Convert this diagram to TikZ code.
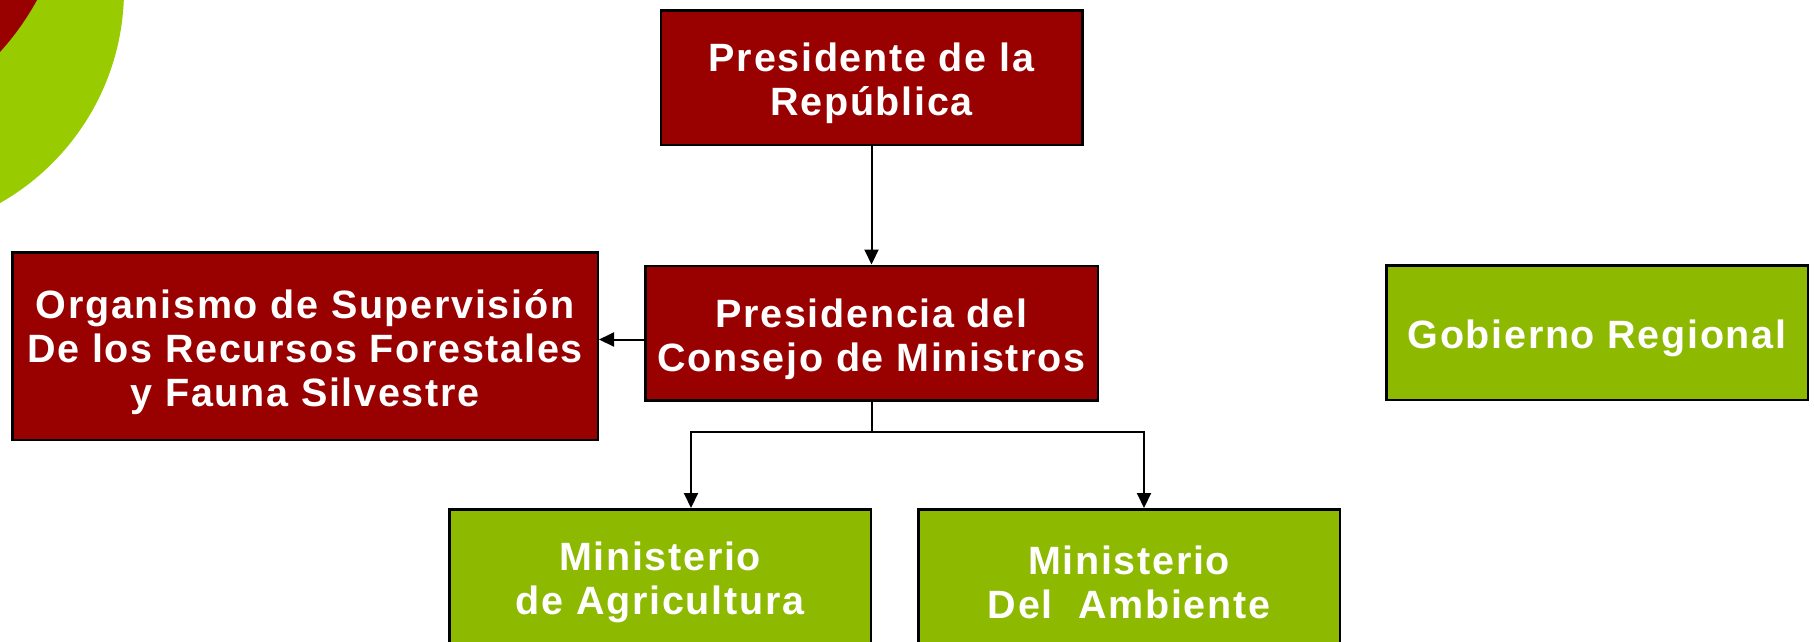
\documentclass[tikz,border=0pt]{standalone}
\usepackage{fontspec}
\newfontfamily\orgfont[LetterSpace=4.3]{Liberation Sans}
\usepackage{xcolor}
\usetikzlibrary{positioning, arrows.meta}

\definecolor{orgred}{RGB}{153,0,0}
\definecolor{orggreen}{RGB}{141,185,0}
\definecolor{ringgreen}{RGB}{153,204,0}

\newcommand{\topstrut}[1][41pt]{\rule{0pt}{#1}}

\begin{document}
\begin{tikzpicture}[x=1pt, y=-1pt,
		OrgNode/.style={rectangle, draw=black, line width=2.5pt, text=white, align=center, inner sep=0pt,
			font=\orgfont\bfseries\fontsize{39.5}{44}\selectfont, minimum width=421.5pt, minimum height=134.5pt},
		RedNode/.style={OrgNode, fill=orgred},
		GreenNode/.style={OrgNode, fill=orggreen},
		Conn/.style={line width=2pt, -{Triangle[length=15pt, width=14pt]}}]

	\useasboundingbox (0,0) rectangle (1814,641);

	% Corner decoration
	\begin{scope}
		\clip (0,0) rectangle (1814,641);
		\fill[ringgreen] (-121,-10) circle (245);
		\fill[orgred] (-200.7,-130) circle (270.9);
	\end{scope}

	% Nodes
	\node[RedNode] (Presidente) at (871.5,77.5) {\topstrut Presidente de la\\República};
	\node[RedNode, minimum width=452.5pt] (Presidencia) [below=118.5pt of Presidente] {\topstrut Presidencia del\\Consejo de Ministros};
	\node[RedNode, minimum width=585.5pt, minimum height=187.5pt] (Organismo) at (305,346) {\topstrut Organismo de Supervisión\\De los Recursos Forestales\\y Fauna Silvestre};
	\node[GreenNode] (Gobierno) at (1597,332.5) {\topstrut Gobierno Regional};
	\node[GreenNode] (MinAgri) at (660,576.5) {\topstrut Ministerio\\de Agricultura};
	\node[GreenNode] (MinAmb) at (1129,576.5) {\topstrut Ministerio\\Del\ \ Ambiente};

	\coordinate (Fork) at ([yshift=-30pt]Presidencia.south);

	% Lines
	\draw[Conn] (Presidente) -- (Presidencia);
	\draw[Conn] ([yshift=-6.5pt]Presidencia.west) -- ([yshift=-6.5pt]Presidencia.west -| Organismo.east);
	\draw[line width=2pt] (Presidencia) -- (Fork);
	\draw[Conn] (Fork) -| ([xshift=31pt]MinAgri.north);
	\draw[Conn] (Fork) -| ([xshift=15pt]MinAmb.north);
\end{tikzpicture}
\end{document}
